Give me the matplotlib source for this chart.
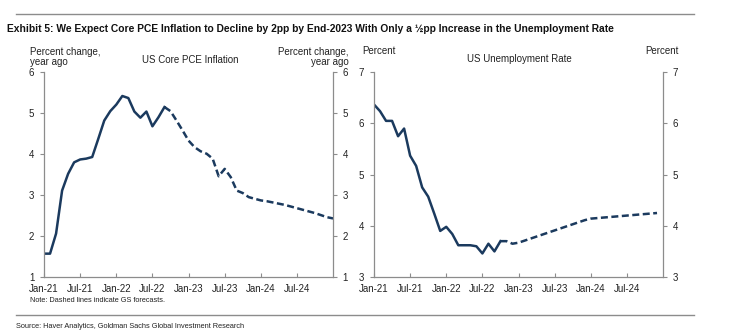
import matplotlib
matplotlib.use("Agg")
import matplotlib.pyplot as plt

# month index 0 = Jan-21
tick_pos = [0, 6, 12, 18, 24, 30, 36, 42]
tick_labels = ["Jan-21", "Jul-21", "Jan-22", "Jul-22", "Jan-23", "Jul-23", "Jan-24", "Jul-24"]

# core PCE, Jan-21 .. Sep-22 (actual)
pce_actual = [1.57, 1.57, 2.06, 3.11, 3.52, 3.80, 3.87, 3.89, 3.93, 4.37, 4.82, 5.05,
              5.21, 5.42, 5.37, 5.04, 4.89, 5.04, 4.68, 4.90, 5.15]
# core PCE, Sep-22 .. Dec-24 (GS forecast)
pce_forecast = [5.15, 5.05, 4.82, 4.58, 4.33, 4.17, 4.07, 4.01, 3.89, 3.46, 3.64, 3.44,
                3.11, 3.05, 2.95, 2.91, 2.87, 2.85, 2.82, 2.79, 2.76, 2.72, 2.68, 2.64,
                2.60, 2.56, 2.51, 2.46, 2.43]

# unemployment, Jan-21 .. Oct-22 (actual)
ur_actual = [6.37, 6.24, 6.05, 6.05, 5.75, 5.90, 5.37, 5.17, 4.75, 4.57, 4.24, 3.90,
             3.98, 3.84, 3.62, 3.62, 3.62, 3.60, 3.46, 3.65, 3.50, 3.70]
# unemployment, Oct-22 .. Dec-24 (GS forecast)
ur_forecast = [3.70, 3.70, 3.65, 3.67, 3.71, 3.75, 3.79, 3.83, 3.87, 3.91, 3.95, 3.99,
               4.03, 4.07, 4.11, 4.14, 4.15, 4.16, 4.17, 4.18, 4.19, 4.20, 4.21, 4.22,
               4.23, 4.24, 4.25]

NAVY = "#1b3a5e"
GREY = "#8c8c8c"
TXT = "#222222"
plt.rcParams["font.family"] = ["Liberation Sans", "DejaVu Sans"]

fig = plt.figure(figsize=(7.45, 3.34), dpi=100)
W, H = 745, 334


def setup(ax, ylim, yticks):
    ax.set_xlim(0, 48)
    ax.set_ylim(*ylim)
    ax.set_xticks(tick_pos)
    ax.set_xticklabels(tick_labels)
    ax.set_yticks(yticks)
    ax.tick_params(axis="x", direction="in", length=3, width=0.8, color=GREY,
                   labelsize=7, labelcolor=TXT, pad=5)
    ax.tick_params(axis="y", direction="out", length=3, width=0.8, color=GREY,
                   labelsize=7, labelcolor=TXT, left=True, right=True,
                   labelleft=True, labelright=True, pad=4)
    ax.spines["top"].set_visible(False)
    for s in ("left", "right", "bottom"):
        ax.spines[s].set_color(GREY)
        ax.spines[s].set_linewidth(0.9)


ax1 = fig.add_axes([0.0591, 0.1707, 0.388, 0.613])
ax1.plot(range(len(pce_actual)), pce_actual, color=NAVY, lw=1.8)
ax1.plot(range(20, 20 + len(pce_forecast)), pce_forecast, color=NAVY, lw=1.8,
         dashes=(2.8, 1.4))
setup(ax1, (1, 6), [1, 2, 3, 4, 5, 6])

ax2 = fig.add_axes([0.502, 0.1707, 0.388, 0.613])
ax2.plot(range(len(ur_actual)), ur_actual, color=NAVY, lw=1.8)
ax2.plot(range(21, 21 + len(ur_forecast)), ur_forecast, color=NAVY, lw=1.8,
         dashes=(2.8, 1.4))
setup(ax2, (3, 7), [3, 4, 5, 6, 7])


def ftext(x, y, s, **kw):
    return fig.text(x / W, 1 - y / H, s, **kw)


def fit_width(t, width_px):
    # the reference uses a narrow face; shrink the font until the text spans the same width
    r = fig.canvas.get_renderer()
    w = t.get_window_extent(renderer=r).width
    t.set_fontsize(t.get_fontsize() * width_px / w)


# header / footer
fig.add_artist(plt.Line2D([16 / W, 694 / W], [1 - 14 / H, 1 - 14 / H], color=GREY, lw=1))
fig.add_artist(plt.Line2D([16 / W, 694 / W], [1 - 315 / H, 1 - 315 / H], color=GREY, lw=1))
title = ftext(7, 29, "Exhibit 5: We Expect Core PCE Inflation to Decline by 2pp by End-2023 "
              "With Only a ½pp Increase in the Unemployment Rate",
              fontsize=9.2, fontweight="bold", va="center", ha="left", color="#111111",
              fontstretch="condensed")
source = ftext(16, 327, "Source: Haver Analytics, Goldman Sachs Global Investment Research",
               fontsize=7, va="center", ha="left", color=TXT, fontstretch="condensed")
note = ftext(30, 300, "Note: Dashed lines indicate GS forecasts.", fontsize=5.8,
             va="center", ha="left", color=TXT)
fit_width(title, 605)
fit_width(source, 232)
fit_width(note, 137)

# axis headers
ftext(30, 57, "Percent change,\nyear ago", fontsize=7, va="center", ha="left",
      color=TXT, linespacing=1.0)
ftext(349, 57, "Percent change,\nyear ago", fontsize=7, va="center", ha="right",
      color=TXT, linespacing=1.0)
ftext(190, 60, "US Core PCE Inflation", fontsize=7, va="center", ha="center", color=TXT)
ftext(362, 51, "Percent", fontsize=7, va="center", ha="left", color=TXT)
ftext(679, 51, "Percent", fontsize=7, va="center", ha="right", color=TXT)
ftext(519, 59, "US Unemployment Rate", fontsize=7, va="center", ha="center", color=TXT)

fig.savefig("out.png", dpi=100)
